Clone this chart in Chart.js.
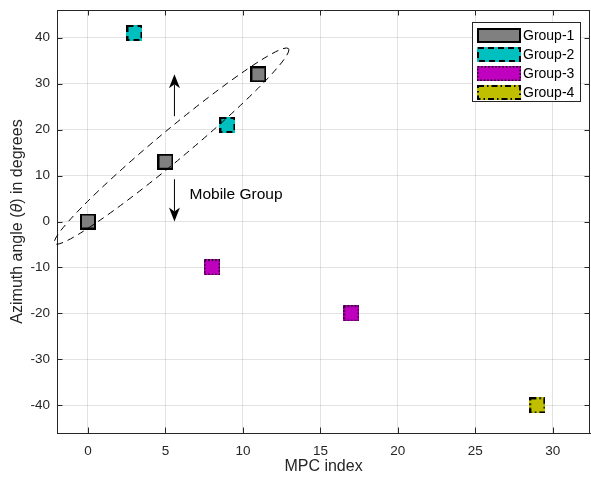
<!DOCTYPE html>
<html>
<head>
<meta charset="utf-8">
<script src="https://cdn.jsdelivr.net/npm/chart.js@4.4.1/dist/chart.umd.min.js"></script>
<style>
  body { margin: 0; background: #fff; }
  #wrap { width: 591px; height: 477px; }
</style>
</head>
<body>
<div id="wrap"><canvas id="c" width="591" height="477"></canvas></div>
<script>
// data
var groupNames = ['Group-1', 'Group-2', 'Group-3', 'Group-4'];
var g1x = [0, 5, 11],  g1y = [0, 13, 32];
var g2x = [3, 9],      g2y = [41, 21];
var g3x = [8, 17],     g3y = [-10, -20];
var g4x = [29],        g4y = [-40];
var xTicks = [0, 5, 10, 15, 20, 25, 30];
var yTicks = [-40, -30, -20, -10, 0, 10, 20, 30, 40];

// annotation (data units)
var ellipseTips = [[-2.15, -4.8], [12.94, 37.6]];
var arrowUp = [[5.58, 22.9], [5.58, 32.0]];
var arrowDown = [[5.58, 9.2], [5.58, 0]];
var noteText = 'Mobile Group';
var notePos = [6.55, 5.9];

var INK = '#262626';
var FONT = '"Liberation Sans", Arial, sans-serif';

function pts(xs, ys) {
  return xs.map(function (x, i) { return { x: x, y: ys[i] }; });
}

function swatch(w, h, fill, dash, lw) {
  var c = document.createElement('canvas');
  c.width = w; c.height = h;
  var g = c.getContext('2d');
  g.fillStyle = fill;
  g.fillRect(0, 0, w, h);
  g.strokeStyle = '#000';
  g.lineWidth = lw;
  g.setLineDash(dash);
  g.strokeRect(lw / 2, lw / 2, w - lw, h - lw);
  return c;
}

var styles = [
  { fill: '#808080', dash: [], lw: 2 },
  { fill: '#00bfbf', dash: [6, 4], lw: 2 },
  { fill: '#bf00bf', dash: [1.5, 2], lw: 1.5 },
  { fill: '#bfbf00', dash: [6, 3, 1.5, 3], lw: 2 }
];
var markers = styles.map(function (s) { return swatch(16, 16, s.fill, s.dash, s.lw); });
var legendBoxes = styles.map(function (s) { return swatch(44, 15, s.fill, s.dash, s.lw); });

var series = [pts(g1x, g1y), pts(g2x, g2y), pts(g3x, g3y), pts(g4x, g4y)];

function noPad(s) {
  s.paddingLeft = 0; s.paddingRight = 0; s.paddingTop = 0; s.paddingBottom = 0;
}

var decor = {
  id: 'decor',
  beforeDatasetsDraw: function (chart) {
    var ctx = chart.ctx, a = chart.chartArea;
    var xs = chart.scales.x, ys = chart.scales.y;
    ctx.save();
    ctx.strokeStyle = INK;
    ctx.lineWidth = 1;
    ctx.beginPath();
    ctx.moveTo(a.left, a.top + 0.5); ctx.lineTo(a.right, a.top + 0.5);
    ctx.moveTo(a.right - 0.5, a.top); ctx.lineTo(a.right - 0.5, a.bottom);
    xTicks.forEach(function (v) {
      var p = Math.round(xs.getPixelForValue(v)) + 0.5;
      ctx.moveTo(p, a.bottom); ctx.lineTo(p, a.bottom - 5.5);
      ctx.moveTo(p, a.top); ctx.lineTo(p, a.top + 5.5);
    });
    yTicks.forEach(function (v) {
      var p = Math.round(ys.getPixelForValue(v)) + 0.5;
      ctx.moveTo(a.left, p); ctx.lineTo(a.left + 5.5, p);
      ctx.moveTo(a.right, p); ctx.lineTo(a.right - 5.5, p);
    });
    ctx.stroke();

    // y axis title with italic theta
    var parts = [['Azimuth angle (', '16px ' + FONT], ['θ', 'italic 16px ' + FONT], [') in degrees', '16px ' + FONT]];
    var total = 0;
    parts.forEach(function (p) { ctx.font = p[1]; total += ctx.measureText(p[0]).width; });
    ctx.translate(18, (a.top + a.bottom) / 2);
    ctx.rotate(-Math.PI / 2);
    ctx.fillStyle = INK;
    ctx.textBaseline = 'middle';
    ctx.textAlign = 'left';
    var cx = -total / 2;
    parts.forEach(function (p) {
      ctx.font = p[1];
      ctx.fillText(p[0], cx, 0);
      cx += ctx.measureText(p[0]).width;
    });
    ctx.restore();
  },
  afterDatasetsDraw: function (chart) {
    var ctx = chart.ctx;
    var xs = chart.scales.x, ys = chart.scales.y;
    function P(d) { return [xs.getPixelForValue(d[0]), ys.getPixelForValue(d[1])]; }
    ctx.save();
    // ellipse
    var t0 = P(ellipseTips[0]), t1 = P(ellipseTips[1]);
    var ecx = (t0[0] + t1[0]) / 2, ecy = (t0[1] + t1[1]) / 2;
    var semi = Math.hypot(t1[0] - t0[0], t1[1] - t0[1]) / 2;
    var ang = Math.atan2(t1[1] - t0[1], t1[0] - t0[0]);
    ctx.strokeStyle = '#000';
    ctx.lineWidth = 1;
    ctx.setLineDash([7, 5]);
    ctx.beginPath();
    ctx.ellipse(ecx, ecy, semi, 15, ang, 0, Math.PI * 2);
    ctx.stroke();
    ctx.setLineDash([]);

    // arrows
    function arrow(seg) {
      var s = P(seg[0]), e = P(seg[1]);
      var dx = e[0] - s[0], dy = e[1] - s[1], L = Math.hypot(dx, dy);
      var ux = dx / L, uy = dy / L, nx = -uy, ny = ux;
      var hl = 14, hw = 5.5, notch = 10;
      ctx.beginPath();
      ctx.moveTo(s[0], s[1]);
      ctx.lineTo(e[0] - ux * notch, e[1] - uy * notch);
      ctx.stroke();
      ctx.beginPath();
      ctx.moveTo(e[0], e[1]);
      ctx.lineTo(e[0] - ux * hl + nx * hw, e[1] - uy * hl + ny * hw);
      ctx.lineTo(e[0] - ux * notch, e[1] - uy * notch);
      ctx.lineTo(e[0] - ux * hl - nx * hw, e[1] - uy * hl - ny * hw);
      ctx.closePath();
      ctx.fillStyle = '#000';
      ctx.fill();
    }
    arrow(arrowUp);
    arrow(arrowDown);

    var tp = P(notePos);
    ctx.fillStyle = '#000';
    ctx.font = '15.5px ' + FONT;
    ctx.textBaseline = 'middle';
    ctx.fillText(noteText, tp[0], tp[1]);

    // legend box
    var lx = 472, ly = 22, lw = 108, lh = 79;
    ctx.fillStyle = '#fff';
    ctx.fillRect(lx, ly, lw, lh);
    ctx.strokeStyle = INK;
    ctx.strokeRect(lx + 0.5, ly + 0.5, lw, lh);
    ctx.font = '14px ' + FONT;
    ctx.fillStyle = '#000';
    groupNames.forEach(function (name, i) {
      var cy = 35.5 + i * 19;
      ctx.drawImage(legendBoxes[i], 477, Math.round(cy - 7.5));
      ctx.fillText(name, 523, cy + 0.5);
    });
    ctx.restore();
  }
};

new Chart(document.getElementById('c'), {
  type: 'scatter',
  data: {
    datasets: series.map(function (d, i) {
      return {
        label: groupNames[i],
        data: d,
        pointStyle: markers[i],
        pointRadius: 8,
        backgroundColor: styles[i].fill,
        borderColor: '#000'
      };
    })
  },
  options: {
    responsive: false,
    animation: false,
    layout: { autoPadding: false, padding: { top: 10, right: 1, left: 0, bottom: 0 } },
    plugins: { legend: { display: false }, tooltip: { enabled: false } },
    scales: {
      x: {
        type: 'linear',
        min: -2, max: 32.4,
        afterBuildTicks: function (s) { s.ticks = xTicks.map(function (v) { return { value: v }; }); },
        afterFit: function (s) { s.height = 44; noPad(s); },
        grid: { color: 'rgba(38,38,38,0.13)', drawTicks: false },
        border: { color: INK },
        ticks: { color: INK, padding: 10, font: { family: FONT, size: 13.5 } },
        title: { display: true, text: 'MPC index', color: INK, font: { family: FONT, size: 16 }, padding: { top: 0, bottom: 1 } }
      },
      y: {
        min: -46, max: 46,
        afterBuildTicks: function (s) { s.ticks = yTicks.map(function (v) { return { value: v }; }); },
        afterFit: function (s) { s.width = 57; noPad(s); },
        grid: { color: 'rgba(38,38,38,0.13)', drawTicks: false },
        border: { color: INK },
        ticks: { color: INK, padding: 7, font: { family: FONT, size: 13.5 } }
      }
    }
  },
  plugins: [decor]
});
</script>
</body>
</html>
